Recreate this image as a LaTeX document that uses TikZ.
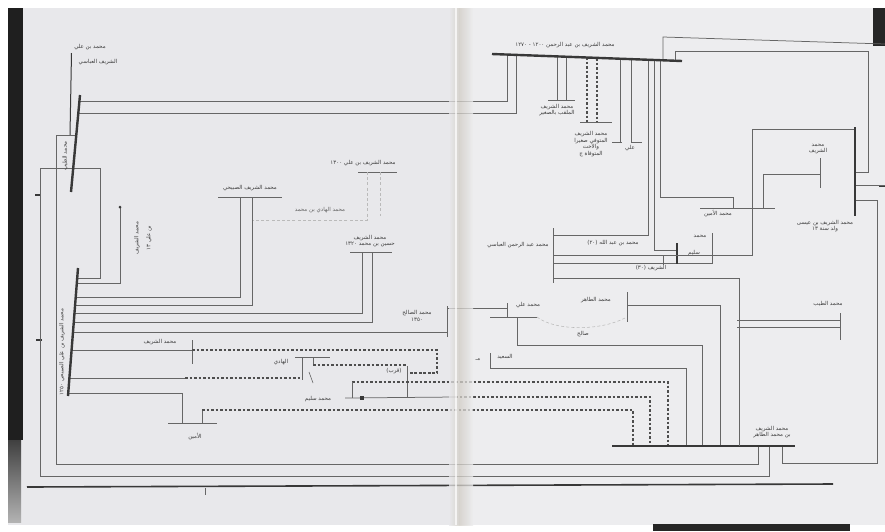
\documentclass[tikz,border=0pt]{standalone}
\usepackage{fontspec}
\newfontfamily\arabicfont[Script=Arabic]{DejaVu Sans}
\TeXXeTstate=1
\newcommand{\artx}[1]{\beginR #1\endR}
\definecolor{paper}{HTML}{E8E8EB}
\definecolor{paperR}{HTML}{EDEDEF}
\definecolor{foldcol}{HTML}{D2CEC6}
\definecolor{lncol}{HTML}{666666}
\definecolor{barcol}{HTML}{383838}
\definecolor{dshcol}{HTML}{4E4E4E}
\definecolor{txtcol}{HTML}{3C3C3C}
\begin{document}
\begin{tikzpicture}[x=1pt,y=-1pt,
  ln/.style={draw=lncol,line width=0.75pt},
  bar/.style={draw=barcol,line width=2.4pt},
  dsh/.style={draw=dshcol,line width=1.3pt,dash pattern=on 2.8pt off 1.7pt},
  fnt/.style={draw=lncol!45,line width=0.55pt,dash pattern=on 3pt off 2.2pt},
  lab/.style={font=\arabicfont\fontsize{5.5}{6.6}\selectfont,text=txtcol,inner sep=0.5pt,align=center}]
\useasboundingbox (0,0) rectangle (885,531);
% ---------- paper ----------
\fill[white] (0,0) rectangle (885,531);
\fill[paper] (8,8) rectangle (885,525);
\fill[paperR] (470,8) rectangle (885,525);
\fill[black!88] (8,8) rectangle (23,440);
\shade[top color=black!75,bottom color=black!30] (8,440) rectangle (21,522);
\fill[black!85] (873,8) rectangle (885,46);
\fill[black!85] (653,524) rectangle (850,531);
% ---------- page marks ----------
\draw[barcol,line width=1.1pt] (35,195) -- (41,195);
\draw[barcol,line width=1.1pt] (36,340) -- (42,340);
\draw[barcol,line width=1.1pt] (879,186) -- (885,186);
\draw[lncol,line width=0.8pt] (205,488) -- (205,495);
% ---------- outer frames ----------
\draw[ln] (56,135) -- (56,464) -- (758,464) -- (758,446);
\draw[ln] (40,168) -- (40,476) -- (769,476) -- (769,446);
\draw[ln] (782,446) -- (782,463) -- (877,463) -- (877,200) -- (855,200);
\draw[barcol,line width=1.6pt] (27,487) -- (833,484);
% ---------- top-left ancestor ----------
\node[lab] (p0a) at (90,47) {\artx{محمد بن علي}};
\node[lab] (p0b) at (98,62) {\artx{الشريف العباسي}};
\coordinate (p0top) at (71.5,53);
\coordinate (p0j) at (70,135);
\draw[barcol,line width=1pt] (p0top) -- (p0j);
\draw[ln] (56,135) -- (76.3,135);
% bar A
\draw[ln] (79.4,101) -- (507,101) -- (507,55);
\draw[ln] (78.3,113) -- (516,113) -- (516,55);
\draw[ln] (40,168) -- (100,168) -- (100,278) -- (77.2,278);
\draw[bar] (80,95) coordinate (A1) -- (71,192) coordinate (A2);
\node[lab,rotate=90] (alab) at (65,156) {\artx{محمد الطيب}};
% ---------- bar B and its branches ----------
\draw[ln] (76.8,283) -- (120,283) -- (120,207);
\fill[barcol] (120,207) circle (1.5pt);
\node[lab,rotate=90] (dl1) at (137,238) {\artx{محمد الشريف}};
\node[lab,rotate=90] (dl2) at (149,238) {\artx{بن علي ١٣}};
% N1
\node[lab] (n1) at (250,188) {\artx{محمد الشريف الصبيحي}};
\draw[ln] (218,197) -- (282,197);
\draw[ln] (75.7,297) -- (240,297) -- (240,197);
\draw[ln] (75.1,305) -- (252,305) -- (252,197);
% N4 / N3 faint
\node[lab] (n4) at (363,163) {\artx{محمد الشريف بن علي ١٣٠٠}};
\draw[ln] (358,172) -- (397,172);
\draw[fnt] (367,172) -- (367,220) -- (253,220);
\draw[fnt] (380,172) -- (380,216);
\node[lab,text=txtcol!80] (n3) at (320,210) {\artx{محمد الهادي بن محمد}};
% N2
\node[lab] (n2) at (370,241) {\artx{محمد الشريف}\\\artx{حسين بن محمد ١٣٢٠}};
\draw[ln] (350,252) -- (392,252);
\draw[ln] (74.5,313) -- (362,313) -- (362,252);
\draw[ln] (73.8,322) -- (372,322) -- (372,252);
% N5 and N12 / N13 / N14
\node[lab] (n5) at (417,316) {\artx{محمد الصالح}\\\artx{١٣٥٠}};
\draw[ln] (73,332) -- (447,332);
\draw[ln] (447,306) -- (447,337);
\draw[ln] (447,308) -- (507,308);
\draw[ln] (507,303) -- (507,318);
\node[lab] (n12) at (528,305) {\artx{محمد علي}};
\draw[ln] (490,317) -- (537,317);
\draw[ln] (517,317) -- (517,345) -- (702,345) -- (702,446);
\draw[fnt] (537,317) .. controls (555,331) and (600,331) .. (625,318);
\node[lab] (n13) at (583,334) {\artx{صالح}};
\node[lab] (n14) at (596,300) {\artx{محمد الطاهر}};
\draw[ln] (627,292) -- (627,322);
\draw[ln] (627,305) -- (720,305) -- (720,446);
% N6 -> N8
\node[lab] (n6) at (160,342) {\artx{محمد الشريف}};
\draw[ln] (71.6,350) -- (192,350);
\draw[ln] (192,340) -- (192,364);
\draw[dsh] (192,350) -- (437,350) -- (437,373) -- (407,373);
\node[lab] (n8) at (394,371) {\artx{(قرب)}};
\draw[ln] (407,366) -- (407,397);
% N7
\node[lab] (n7) at (281,362) {\artx{الهادي}};
\draw[ln] (69.4,378) -- (185,378);
\draw[dsh] (185,378) -- (302,378);
\draw[ln] (302,357) -- (302,380);
\draw[ln] (295,357) -- (330,357);
\draw[ln] (313,357) -- (313,365);
\draw[dsh] (313,365) -- (407,365);
\draw[lncol,line width=0.6pt] (309,372) -- (313,383);
% N9
\node[lab] (n9) at (318,399) {\artx{محمد سليم}};
\draw[dsh] (352,382) -- (668,382) -- (668,446);
\draw[ln] (352,382) -- (352,398);
\draw[ln] (345,398) -- (455,397);
\fill[barcol] (360,396) rectangle (364,400);
\draw[dsh] (455,397) -- (650,397) -- (650,446);
% N10
\node[lab] (n10) at (195,437) {\artx{الأمين}};
\draw[ln] (68.2,393) -- (182,393) -- (182,423);
\draw[ln] (168,423) -- (217,423);
\draw[ln] (202,423) -- (202,410);
\draw[dsh] (202,410) -- (633,410) -- (633,446);
% N11
\node[lab] (n11) at (505,357) {\artx{السعيد}};
\node[lab] (n11b) at (478,360) {\artx{مـ}};
\draw[ln] (490,353) -- (490,369);
\draw[ln] (490,368) -- (686,368) -- (686,446);
% bar B drawn over the line starts
\draw[bar] (78,268) coordinate (B1) -- (68,396) coordinate (B2);
\node[lab,rotate=90] (blab) at (62,352) {\artx{محمد الشريف بن علي الصبيحي ١٢٥٠}};
% ---------- bottom bar C ----------
\draw[bar] (612,446) coordinate (C1) -- (795,446) coordinate (C2);
\node[lab] (clab) at (772,432) {\artx{محمد الشريف}\\\artx{بن محمد الطاهر}};
% N15
\node[lab] (n15) at (828,304) {\artx{محمد الطيب}};
\draw[ln] (840,313) -- (840,340);
\draw[ln] (840,320) -- (737,320);
\draw[ln] (840,327) -- (737,327);
% ---------- top bar T ----------
\node[lab] (tlab) at (565,45) {\artx{محمد الشريف بن عبد الرحمن ١٢٠٠ - ١٢٧٠}};
\draw[ln] (557,56) -- (557,100);
\draw[ln] (566,56) -- (566,100);
\draw[ln] (548,100) -- (575,100);
\node[lab] (t1) at (557,110) {\artx{محمد الشريف}\\\artx{الملقب بالصغير}};
\draw[dsh] (587,57) -- (587,122);
\draw[dsh] (597,58) -- (597,122);
\draw[ln] (580,122) -- (612,122);
\node[lab] (t2) at (591,144) {\artx{محمد الشريف}\\\artx{المتوفى صغيرا}\\\artx{والأخت}\\\artx{المتوفاة ج}};
\draw[ln] (620,58) -- (620,142);
\draw[ln] (631,59) -- (631,142);
\draw[ln] (612,142) -- (622,142);
\draw[ln] (631,142) -- (642,142);
\node[lab] (t3) at (630,148) {\artx{علي}};
\draw[ln] (648,59) -- (648,235) -- (553,235);
\draw[ln] (654,60) -- (654,250) -- (677,250);
\draw[ln] (660,60) -- (660,197) -- (733,197) -- (733,208);
\draw[ln] (663,60) -- (663,37) -- (885,44);
\draw[ln] (675,60) -- (675,51) -- (868,51) -- (868,172) -- (855,172);
\draw[bar] (492,54) coordinate (T1) -- (682,61) coordinate (T2);
% N16 / N19
\node[lab] (n16) at (518,245) {\artx{محمد عبد الرحمن العباسي}};
\draw[ln] (553,228) -- (553,283);
\node[lab] (n16b) at (613,243) {\artx{محمد بن عبد الله (٢٠)}};
\draw[ln] (553,263) -- (712,263) -- (712,233);
\draw[ln] (553,278) -- (739,278) -- (739,446);
\draw[barcol,line width=1.1pt] (677,243) -- (677,264);
\draw[ln] (663,256) -- (663,265);
\node[lab] (n19a) at (700,236) {\artx{محمد}};
\node[lab] (n19b) at (694,253) {\artx{سليم}};
\node[lab] (n19c) at (651,268) {\artx{الشريف (٣٠)}};
% N17 / N18 / R
\node[lab] (n17) at (718,214) {\artx{محمد الأمين}};
\draw[ln] (700,208) -- (775,208);
\draw[ln] (763,208) -- (763,174) -- (820,174);
\draw[ln] (820,158) -- (820,188);
\node[lab] (n18) at (818,149) {\artx{محمد}\\\artx{الشريف}};
\draw[ln] (855,129) -- (752,129) -- (752,255) -- (553,255);
\draw[ln] (855,185) -- (885,185);
\draw[bar] (855,127) coordinate (R1) -- (855,216) coordinate (R2);
\node[lab] (rlab) at (825,226) {\artx{محمد الشريف بن عيسى}\\\artx{ولد سنة ١٣}};
% ---------- fold ----------
\shade[left color=paper,right color=foldcol,opacity=0.75] (449,8) rectangle (459,525);
\shade[left color=foldcol,right color=paperR,opacity=0.75] (459,8) rectangle (473,525);
\draw[white,line width=1.2pt,opacity=0.7] (456,8) -- (456,525);
\end{tikzpicture}
\end{document}
